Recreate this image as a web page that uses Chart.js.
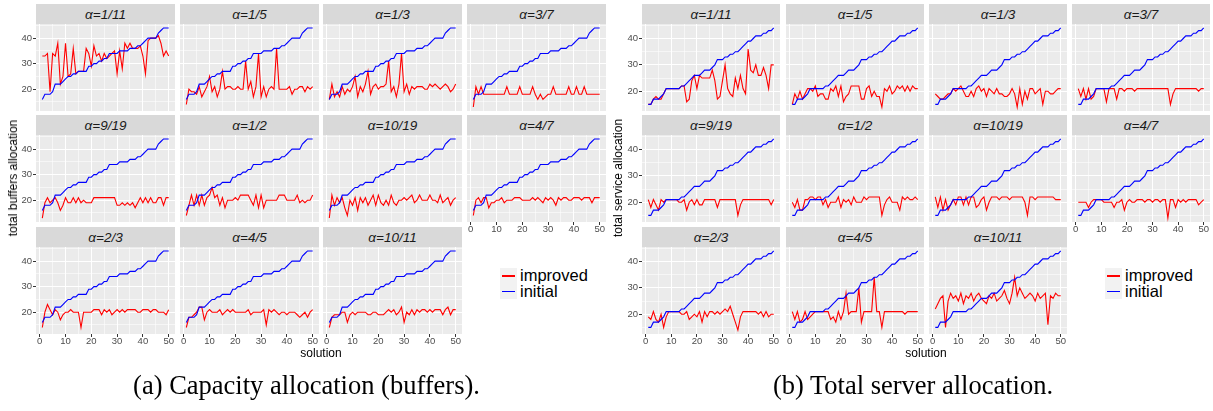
<!DOCTYPE html>
<html><head><meta charset="utf-8">
<script src="https://cdn.jsdelivr.net/npm/chart.js@4"></script>
<style>
html,body{margin:0;padding:0;background:#fff;}
#root{position:relative;width:1213px;height:411px;overflow:hidden;font-family:"Liberation Sans",Arial,sans-serif;}
.strip{position:absolute;background:#D9D9D9;color:#1A1A1A;font-style:italic;font-size:13.5px;display:flex;align-items:center;justify-content:center;}
canvas{position:absolute;}
.ytitle{position:absolute;white-space:nowrap;font-size:12px;color:#000;transform:translate(-50%,-50%) rotate(-90deg);}
.xtitle{position:absolute;white-space:nowrap;font-size:12px;color:#000;transform:translate(-50%,-50%);}
.legend{position:absolute;}
.lrow{display:flex;align-items:center;height:15.5px;}
.key{display:block;width:17px;height:15.5px;background:#F2F2F2;position:relative;flex:none;}
.key b{display:block;position:absolute;left:2px;width:13px;top:7px;height:1.5px;}
.lab{font-size:16.5px;margin-left:3px;color:#000;line-height:15.5px;}
.cap{position:absolute;white-space:nowrap;font-family:"Liberation Serif","Times New Roman",serif;font-size:26.5px;color:#000;transform:translate(-50%,-50%);}
</style></head>
<body><div id="root"></div>
<script>
const solutions = [1,2,3,4,5,6,7,8,9,10,11,12,13,14,15,16,17,18,19,20,21,22,23,24,25,26,27,28,29,30,31,32,33,34,35,36,37,38,39,40,41,42,43,44,45,46,47,48,49,50];
const alphaLabels = ['1/11','1/5','1/3','3/7','9/19','1/2','10/19','4/7','2/3','4/5','10/11'];
const yTickLabels = [20,30,40];
const yMinorTicks = [15,25,35,45];
const xTickLabels = [0,10,20,30,40,50];
const xMinorTicks = [5,15,25,35,45];
const seriesNames = ['improved','initial'];

// (a) buffers
const initialBuffers = [16,18,18,18,19,22,22,22,23,24, 25,25,26,26,27,27,27,27,29,29, 30,30,31,31,32,32,34,34,34,34, 35,35,35,35,36,36,36,37,37,38, 39,40,40,40,40,42,43,44,44,44];
const improvedBuffers_1_11 = [33,33,34,19,34,33,38,22,25,38, 25,26,36,26,27,27,27,36,34,29, 37,33,34,31,34,32,33,34,35,26, 35,28,38,36,38,36,36,36,37,33, 26,39,40,40,40,41,38,33,35,33];
const improvedBuffers_1_5 = [14,20,19,19,18,21,17,19,21,25, 19,21,17,20,27,20,21,21,20,20, 21,20,20,31,20,23,17,21,34,17, 21,17,20,21,20,36,20,20,20,20, 21,18,20,20,21,21,19,21,20,21];
const improvedBuffers_1_3 = [16,22,17,19,17,21,18,20,19,21, 25,17,21,19,22,27,18,21,22,20, 21,21,22,31,19,21,17,22,34,19, 22,18,21,20,21,21,21,20,20,22, 21,22,21,20,21,22,21,19,20,22];
const improvedBuffers_3_7 = [13,21,18,21,18,18,18,18,18,18, 18,18,18,21,18,18,18,18,21,18, 18,18,18,21,18,16,18,16,17,18, 18,21,18,18,18,18,18,21,18,18, 21,18,18,21,18,18,18,18,18,18];
const improvedBuffers_9_19 = [13,19,21,19,20,21,19,16,18,21, 19,19,21,19,21,19,20,19,19,19, 21,21,21,21,21,21,21,21,21,18, 18,19,18,19,18,19,17,19,21,19, 21,19,21,19,19,21,21,18,21,21];
const improvedBuffers_1_2 = [14,18,22,18,22,18,22,18,21,22, 25,21,22,18,21,17,20,20,20,21, 20,22,22,22,22,20,18,22,17,22, 17,20,20,20,20,20,22,22,22,20, 20,20,20,22,19,20,19,20,20,22];
const improvedBuffers_10_19 = [13,22,18,21,19,21,17,14,20,18, 21,16,21,19,21,18,20,22,18,22, 19,18,20,18,22,19,18,20,20,21, 20,21,22,19,20,22,20,20,20,22, 20,20,19,22,19,20,21,18,20,21];
const improvedBuffers_4_7 = [14,20,21,19,21,21,17,19,19,20, 20,21,19,20,20,20,21,21,21,20, 20,20,20,21,20,21,20,19,21,20, 21,20,18,21,20,21,21,20,20,21, 21,21,20,21,21,21,19,21,21,21];
const improvedBuffers_2_3 = [14,20,23,21,19,21,20,17,19,20, 20,21,20,20,20,14,20,20,20,20, 21,21,21,19,21,20,21,19,20,21, 20,21,20,21,21,21,21,20,20,21, 21,21,20,21,21,20,20,20,19,21];
const improvedBuffers_4_5 = [14,18,18,19,20,22,22,17,20,21, 20,20,20,21,19,20,21,20,21,20, 20,20,20,20,21,19,20,20,20,20, 21,15,21,20,21,20,19,20,20,19, 20,20,20,19,18,19,20,18,20,21];
const improvedBuffers_10_11 = [14,18,19,19,19,20,20,16,19,20, 19,20,20,20,20,19,19,20,20,19, 19,19,20,21,20,21,19,20,22,16, 20,19,21,19,21,20,21,21,20,21, 20,21,21,21,19,21,22,19,21,21];

// (b) service
const initialService = [15,15,17,17,17,18,19,21,21,21, 21,21,21,22,22,23,24,25,26,26, 26,27,28,28,28,29,30,32,32,32, 33,33,34,34,35,35,36,37,38,39, 39,40,41,41,41,42,42,43,43,44];
const improvedService_1_11 = [15,15,17,18,17,17,19,21,21,21, 21,21,21,22,22,16,17,24,26,21, 26,25,25,25,25,28,24,17,18,24, 30,21,19,18,25,21,26,21,19,36, 28,27,30,26,26,29,26,21,30,30];
const improvedService_1_5 = [15,19,17,20,17,19,21,21,20,22, 18,19,19,17,17,21,20,22,18,22, 16,18,19,22,22,22,22,17,17,21, 22,18,20,18,18,14,21,20,22,19, 20,22,21,22,20,22,20,22,21,21];
const improvedService_1_3 = [19,18,17,17,18,19,19,21,20,21, 22,20,18,18,20,18,21,22,20,21, 18,21,20,19,21,19,19,18,18,19, 21,19,14,21,15,20,17,21,21,19, 20,21,15,20,20,19,19,20,21,21];
const improvedService_3_7 = [21,18,21,17,21,17,18,21,21,21, 21,16,21,21,21,17,21,21,20,21, 21,21,20,21,21,21,21,21,21,21, 21,21,21,21,21,21,15,19,21,21, 21,21,21,21,21,21,21,20,21,21];
const improvedService_9_19 = [21,18,21,19,17,21,20,21,21,21, 21,21,20,20,21,17,20,21,19,21, 19,19,21,21,21,21,21,18,21,21, 21,21,21,21,21,15,19,21,21,21, 21,21,21,21,21,21,21,21,19,21];
const improvedService_1_2 = [20,18,21,17,17,21,21,22,22,21, 22,22,19,21,18,20,20,20,22,18, 21,20,21,19,22,20,20,20,22,21, 22,22,22,22,22,15,19,21,22,20, 20,20,17,22,21,22,21,21,22,21];
const improvedService_10_19 = [22,18,22,17,21,17,19,21,19,22, 22,19,22,19,22,22,18,19,21,22, 17,20,22,22,22,21,22,22,22,21, 22,22,22,22,22,20,15,22,22,21, 22,22,22,22,22,22,22,21,21,21];
const improvedService_4_7 = [20,20,20,20,18,20,21,21,21,21, 20,20,20,20,18,20,20,21,17,20, 21,20,20,21,21,21,20,21,21,20, 21,21,20,21,21,14,21,21,18,21, 20,21,20,21,21,21,21,19,20,21];
const improvedService_2_3 = [19,18,21,18,17,20,15,19,21,21, 21,21,21,20,20,21,18,19,20,19, 21,17,21,19,21,21,20,21,20,21, 22,21,23,20,17,14,19,21,21,21, 21,21,21,20,21,19,21,19,20,20];
const improvedService_4_5 = [21,18,21,17,18,21,18,19,20,21, 21,21,21,21,21,18,19,17,21,18, 21,28,20,21,21,21,30,17,21,21, 21,21,34,21,21,15,21,21,21,21, 21,21,21,21,20,21,21,21,21,21];
const improvedService_10_11 = [22,24,26,27,15,25,28,26,27,25, 28,24,27,26,28,25,27,28,26,25, 24,27,26,28,25,26,27,29,26,24, 28,34,27,30,28,26,27,28,27,25, 28,26,27,28,16,27,26,28,27,27];

const figures = [
  { initial: initialBuffers,
    improved: [improvedBuffers_1_11,improvedBuffers_1_5,improvedBuffers_1_3,improvedBuffers_3_7,improvedBuffers_9_19,improvedBuffers_1_2,improvedBuffers_10_19,improvedBuffers_4_7,improvedBuffers_2_3,improvedBuffers_4_5,improvedBuffers_10_11],
    yMin: 11.45, yMax: 45.55, colLeft: [36,180,323,467], plotW: 139,
    yTitle: 'total buffers allocation', yTitleX: 13, xTitleX: 321,
    legendX: 500, caption: '(a) Capacity allocation (buffers).', captionX: 306.5 },
  { initial: initialService,
    improved: [improvedService_1_11,improvedService_1_5,improvedService_1_3,improvedService_3_7,improvedService_9_19,improvedService_1_2,improvedService_10_19,improvedService_4_7,improvedService_2_3,improvedService_4_5,improvedService_10_11],
    yMin: 12.5, yMax: 45.5, colLeft: [642,786,929,1072], plotW: 138,
    yTitle: 'total service allocation', yTitleX: 617.5, xTitleX: 926,
    legendX: 1105, caption: '(b) Total server allocation.', captionX: 913 }
];
const rowTop = [24,135,247];
const plotH = 87, stripH = 20;
const root = document.getElementById('root');

const bgPlugin = {
  id: 'panelBg',
  beforeDraw(chart) {
    const a = chart.chartArea, ctx = chart.ctx;
    ctx.save(); ctx.fillStyle = '#EBEBEB';
    ctx.fillRect(a.left, a.top, a.right - a.left, a.bottom - a.top);
    ctx.restore();
  }
};

function addDiv(cls, text, style) {
  const d = document.createElement('div');
  d.className = cls; d.textContent = text;
  Object.assign(d.style, style);
  root.appendChild(d); return d;
}

const tickFont = {family: '"Liberation Sans", Arial, sans-serif', size: 9.5, lineHeight: 1};
const isMajor = (ctx, majors) => ctx.tick && majors.includes(ctx.tick.value);

figures.forEach(fig => {
  fig.improved.forEach((imp, idx) => {
    const col = idx % 4, row = Math.floor(idx / 4);
    const left = fig.colLeft[col], top = rowTop[row];
    const showY = col === 0;
    const showX = row === 2 || (row === 1 && col === 3);
    const L = 40, B = 18, R = 8;
    addDiv('strip', 'α=' + alphaLabels[idx], {left: left + 'px', top: (top - stripH) + 'px', width: fig.plotW + 'px', height: stripH + 'px'});
    const cv = document.createElement('canvas');
    const W = fig.plotW + L + R, H = plotH + B;
    cv.width = W; cv.height = H;
    cv.style.left = (left - L) + 'px'; cv.style.top = top + 'px';
    cv.style.width = W + 'px'; cv.style.height = H + 'px';
    root.appendChild(cv);
    const pts = arr => solutions.map((s, i) => ({x: s, y: arr[i]}));
    new Chart(cv.getContext('2d'), {
      type: 'line',
      data: { datasets: [
        {label: seriesNames[1], data: pts(fig.initial), borderColor: '#0000FF', borderWidth: 1.1, pointRadius: 0, tension: 0, fill: false},
        {label: seriesNames[0], data: pts(imp), borderColor: '#FF0000', borderWidth: 1.1, pointRadius: 0, tension: 0, fill: false}
      ]},
      options: {
        responsive: false, animation: false, events: [], devicePixelRatio: 1,
        layout: {padding: {left: 0, right: R, top: 0, bottom: 0}},
        plugins: {legend: {display: false}, tooltip: {enabled: false}},
        scales: {
          x: {
            type: 'linear', min: -1.45, max: 52.45,
            afterBuildTicks: s => { s.ticks = xTickLabels.concat(xMinorTicks).sort((a,b)=>a-b).map(v => ({value: v})); },
            afterFit: s => { s.height = B; s.paddingLeft = 0; s.paddingRight = 0; },
            border: {display: false},
            grid: {
              color: c => isMajor(c, xTickLabels) ? '#FFFFFF' : 'rgba(255,255,255,0.55)',
              lineWidth: 1,
              drawTicks: showX, tickLength: 3,
              tickColor: c => isMajor(c, xTickLabels) ? '#333333' : 'rgba(0,0,0,0)'
            },
            ticks: {display: showX, autoSkip: false, maxRotation: 0, padding: 0, color: '#4D4D4D', font: tickFont,
              callback: v => xTickLabels.includes(v) ? String(v) : ''}
          },
          y: {
            min: fig.yMin, max: fig.yMax,
            afterBuildTicks: s => { s.ticks = yTickLabels.concat(yMinorTicks).sort((a,b)=>a-b).map(v => ({value: v})); },
            afterFit: s => { s.width = L; s.paddingTop = 0; s.paddingBottom = 0; },
            border: {display: false},
            grid: {
              color: c => isMajor(c, yTickLabels) ? '#FFFFFF' : 'rgba(255,255,255,0.55)',
              lineWidth: 1,
              drawTicks: showY, tickLength: 3,
              tickColor: c => isMajor(c, yTickLabels) ? '#333333' : 'rgba(0,0,0,0)'
            },
            ticks: {display: showY, autoSkip: false, padding: 1, color: '#4D4D4D', font: tickFont,
              callback: v => yTickLabels.includes(v) ? String(v) : ''}
          }
        }
      },
      plugins: [bgPlugin]
    });
  });
  addDiv('ytitle', fig.yTitle, {left: fig.yTitleX + 'px', top: '178px'});
  addDiv('xtitle', 'solution', {left: fig.xTitleX + 'px', top: '353px'});
  const lg = document.createElement('div');
  lg.className = 'legend'; lg.style.left = fig.legendX + 'px'; lg.style.top = '268px';
  [['improved', '#FF0000'], ['initial', '#0000FF']].forEach(([name, colr]) => {
    const r = document.createElement('div'); r.className = 'lrow';
    const k = document.createElement('span'); k.className = 'key';
    const ln = document.createElement('b'); ln.style.backgroundColor = colr; k.appendChild(ln);
    const t = document.createElement('span'); t.className = 'lab'; t.textContent = name;
    r.appendChild(k); r.appendChild(t); lg.appendChild(r);
  });
  root.appendChild(lg);
  addDiv('cap', fig.caption, {left: fig.captionX + 'px', top: '385px'});
});
</script>
</body></html>
